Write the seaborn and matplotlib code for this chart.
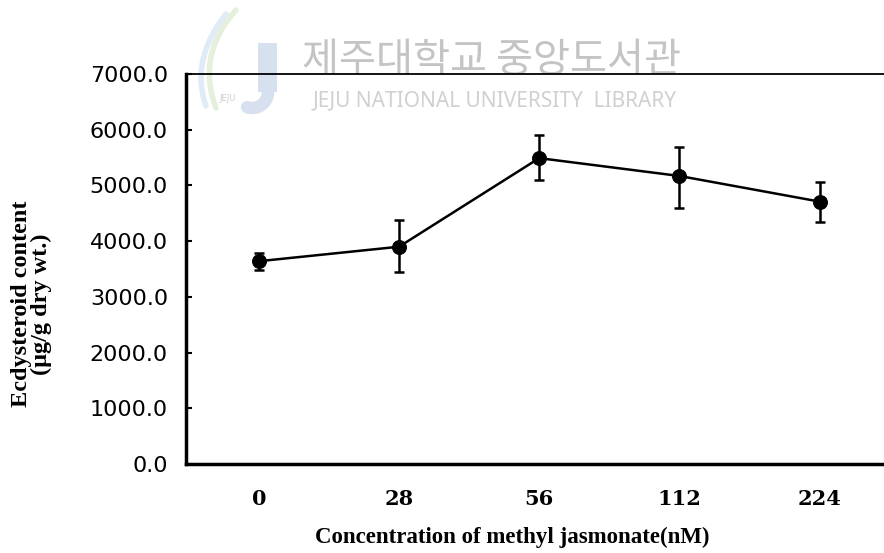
import numpy as np
import seaborn as sns
import matplotlib.pyplot as plt
from matplotlib.lines import Line2D
from matplotlib.patches import Rectangle

# values
concentrations = ["0", "28", "56", "112", "224"]
ecdysteroid = [3640, 3900, 5490, 5170, 4710]
err_low = [150, 450, 390, 580, 370]
err_high = [150, 480, 420, 520, 350]
y_ticks = [0, 1000, 2000, 3000, 4000, 5000, 6000, 7000]

sns.set_theme(style="white")
plt.rcParams['font.family'] = ['Liberation Serif', 'DejaVu Serif']
plt.rcParams['text.color'] = 'black'

W, H = 884, 553
fig = plt.figure(figsize=(W / 100, H / 100), dpi=100)
ax = fig.add_axes([186 / W, 1 - 464 / H, 1 - 186 / W, 390 / H])
ax.set_facecolor('none')

pos = np.arange(len(concentrations))
sns.lineplot(x=pos, y=ecdysteroid, ax=ax, color='black', linewidth=1.8,
             marker='o', markersize=10, markeredgecolor='black', zorder=3)
ax.errorbar(pos, ecdysteroid, yerr=[err_low, err_high], fmt='none',
            ecolor='black', elinewidth=1.8, capsize=3.5, capthick=1.8,
            zorder=3)

ax.set_xlim(-0.52, 4.46)
ax.set_ylim(0, 7000)

ax.set_xticks(pos)
ax.set_xticklabels(concentrations, fontsize=15, fontweight='bold',
                   family=['DejaVu Serif'], color='black')
ax.set_xticks(pos[:-1] + 0.5, minor=True)
ax.tick_params(axis='x', which='major', length=0, pad=18)
ax.tick_params(axis='x', which='minor', direction='in', length=5, width=1.5,
               color='black')

ax.set_yticks(y_ticks)
ax.set_yticklabels([f"{v:.1f}" for v in y_ticks], fontsize=16,
                   family=['DejaVu Sans'], color='black')
ax.tick_params(axis='y', direction='in', length=4, width=1.5, pad=13,
               color='black', left=True)

for side in ['left', 'bottom']:
    ax.spines[side].set_linewidth(2.5)
    ax.spines[side].set_color('black')
ax.spines['top'].set_linewidth(1.3)
ax.spines['top'].set_color('black')
ax.spines['right'].set_visible(False)

ax.set_xlabel("Concentration of methyl jasmonate(nM)", fontsize=16.5,
              fontweight='bold', color='black')
ax.xaxis.set_label_coords(0.467, -0.16)
ax.set_ylabel("Ecdysteroid content\n(μg/g dry wt.)", fontsize=17.5,
              fontweight='bold', linespacing=0.95, color='black')
ax.yaxis.set_label_coords(-0.192, 0.41)


# faint library watermark on the scan (pixel coords from top-left)
def px(x, y):
    return x / W, 1 - y / H


t = np.linspace(0, 1, 40)
for (x0, y0), (x1, y1), (x2, y2), col in [
        ((236, 10), (196, 55), (216, 108), '#e4efdc'),
        ((226, 14), (190, 60), (206, 106), '#dfebf5')]:
    bx = (1 - t) ** 2 * x0 + 2 * (1 - t) * t * x1 + t ** 2 * x2
    by = (1 - t) ** 2 * y0 + 2 * (1 - t) * t * y1 + t ** 2 * y2
    fx, fy = px(bx, by)
    fig.add_artist(Line2D(fx, fy, color=col, linewidth=4, zorder=-1,
                          solid_capstyle='round'))

logo_blue = '#d6e0ef'
fig.add_artist(Rectangle(px(258, 92), 19 / W, 49 / H, facecolor=logo_blue,
                         edgecolor='none', zorder=-1))
ang = np.linspace(0, -np.pi * 0.6, 30)
hx, hy = px(252 + 16 * np.cos(ang), 92 - 16 * np.sin(ang))
fig.add_artist(Line2D(hx, hy, color=logo_blue, linewidth=9, zorder=-1))
fig.text(228 / W, 1 - 98 / H, "JEJU", fontsize=6, color='#cccccc',
         ha='center', va='center', family=['DejaVu Sans'], zorder=-1)

fig.text(0.556, 0.89, "제주대학교 중앙도서관", fontsize=29, color='#c4c4c4',
         ha='center', va='center', family=['Noto Sans CJK KR'], zorder=-1)
fig.text(0.56, 0.817, "JEJU NATIONAL UNIVERSITY  LIBRARY", fontsize=15,
         color='#d0d0d0', ha='center', va='center',
         family=['Noto Sans'], zorder=-1)

fig.savefig("out.png", dpi=100)
